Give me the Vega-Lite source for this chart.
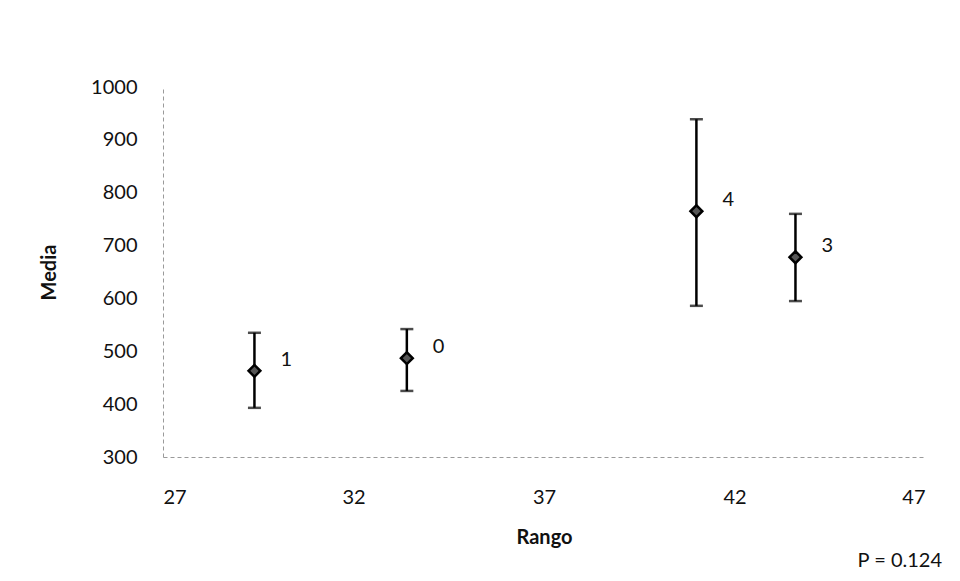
{
  "$schema": "https://vega.github.io/schema/vega-lite/v6.json",
  "autosize": {"type": "none"},
  "width": 762,
  "height": 370,
  "padding": {"left": 163, "top": 87, "right": 35, "bottom": 124},
  "background": "white",
  "config": {
    "view": {"stroke": null},
    "font": "Lato",
    "axis": {
      "grid": false,
      "ticks": false,
      "domainColor": "#9a9a9a",
      "domainDash": [4, 3],
      "domainWidth": 1,
      "labelFont": "Lato",
      "labelFontSize": 20,
      "labelColor": "#111",
      "titleFont": "Lato",
      "titleFontSize": 20,
      "titleFontWeight": "bold",
      "titleColor": "#111"
    }
  },
  "title": {
    "text": "P = 0.124",
    "orient": "bottom",
    "anchor": "end",
    "frame": "group",
    "fontSize": 20,
    "fontWeight": "normal",
    "font": "Lato",
    "color": "#111",
    "dx": 17,
    "offset": 4
  },
  "data": {
    "values": [
      {"grupo": "1", "rango": 29.4, "media": 463, "lo": 393, "hi": 535},
      {"grupo": "0", "rango": 33.4, "media": 487, "lo": 425, "hi": 542},
      {"grupo": "4", "rango": 41.0, "media": 765, "lo": 586, "hi": 939},
      {"grupo": "3", "rango": 43.6, "media": 678, "lo": 595, "hi": 760}
    ]
  },
  "encoding": {
    "x": {
      "field": "rango",
      "type": "quantitative",
      "scale": {"domain": [27, 47], "nice": false, "zero": false},
      "axis": {
        "values": [27, 32, 37, 42, 47],
        "format": "d",
        "title": "Rango",
        "labelPadding": 30,
        "titleY": 80,
        "titleBaseline": "middle"
      }
    }
  },
  "layer": [
    {
      "mark": {
        "type": "errorbar",
        "color": "black",
        "ticks": {"size": 13, "thickness": 2.5, "color": "black"},
        "rule": {"strokeWidth": 2.5, "color": "black"}
      },
      "encoding": {
        "y": {
          "field": "lo",
          "type": "quantitative",
          "scale": {"domain": [300, 1000], "nice": false, "zero": false},
          "axis": {
            "values": [300, 400, 500, 600, 700, 800, 900, 1000],
            "format": "d",
            "title": "Media",
            "labelPadding": 26,
            "titleX": -114,
            "titleY": 185,
            "titleAngle": -90,
            "titleBaseline": "middle"
          }
        },
        "y2": {"field": "hi"}
      }
    },
    {
      "mark": {
        "type": "point",
        "shape": "diamond",
        "size": 140,
        "filled": true,
        "fill": "#555",
        "stroke": "black",
        "strokeWidth": 2.5,
        "opacity": 1
      },
      "encoding": {
        "y": {"field": "media", "type": "quantitative"}
      }
    },
    {
      "mark": {
        "type": "text",
        "align": "left",
        "baseline": "middle",
        "dx": 26,
        "dy": -11,
        "fontSize": 20,
        "font": "Lato",
        "color": "#111"
      },
      "encoding": {
        "y": {"field": "media", "type": "quantitative"},
        "text": {"field": "grupo"}
      }
    }
  ]
}
